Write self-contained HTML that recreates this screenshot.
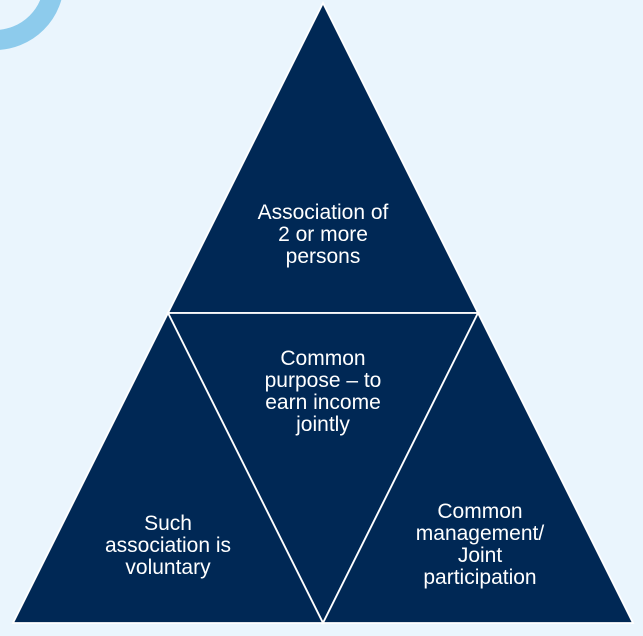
<!DOCTYPE html>
<html>
<head>
<meta charset="utf-8">
<style>
  html, body { margin: 0; padding: 0; }
  body { width: 643px; height: 636px; background: #eaf5fd; overflow: hidden; }
  svg { display: block; }
  text { font-family: "Liberation Sans", Arial, sans-serif; font-size: 21px; fill: #ffffff; text-anchor: middle; }
</style>
</head>
<body>
<svg width="643" height="636" viewBox="0 0 643 636" xmlns="http://www.w3.org/2000/svg">
  <rect x="0" y="0" width="643" height="636" fill="#eaf5fd"/>
  <circle cx="-5" cy="-19" r="59" fill="none" stroke="#8dcbec" stroke-width="20"/>
  <g fill="#002855" stroke="#ffffff" stroke-width="1.8" stroke-linejoin="miter">
    <polygon points="323,3 168,313 478,313"/>
    <polygon points="168,313 478,313 323,623"/>
    <polygon points="168,313 13,623 323,623"/>
    <polygon points="478,313 323,623 633,623"/>
  </g>
  <text x="323" y="219">Association of</text>
  <text x="323" y="241">2 or more</text>
  <text x="323" y="263">persons</text>

  <text x="323" y="365">Common</text>
  <text x="323" y="387">purpose – to</text>
  <text x="323" y="409">earn income</text>
  <text x="323" y="431">jointly</text>

  <text x="168" y="530">Such</text>
  <text x="168" y="552">association is</text>
  <text x="168" y="574">voluntary</text>

  <text x="480" y="518">Common</text>
  <text x="480" y="540">management/</text>
  <text x="480" y="562">Joint</text>
  <text x="480" y="584">participation</text>
</svg>
</body>
</html>
